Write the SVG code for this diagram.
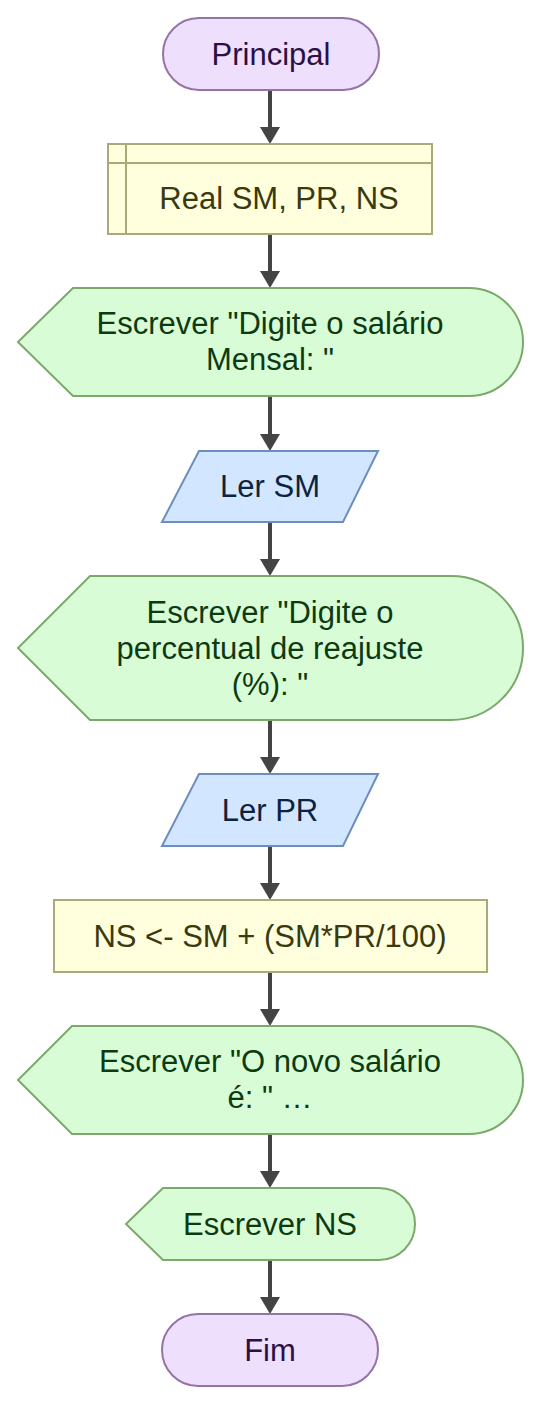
<svg xmlns="http://www.w3.org/2000/svg" width="541" height="1405" viewBox="0 0 541 1405">
<style>
text{font-family:"Liberation Sans",Arial,sans-serif;font-size:31px;text-anchor:middle}
.term{fill:#EEDFFD;stroke:#9673A6;stroke-width:2}
.term-t{fill:#2B0F45}
.proc{fill:#FFFFDD;stroke:#A9A97A;stroke-width:2}
.proc-t{fill:#3A3A0E}
.out{fill:#D8FDD6;stroke:#7DA86C;stroke-width:2}
.out-t{fill:#0E3A12}
.inp{fill:#D2E7FF;stroke:#6C8EBF;stroke-width:2}
.inp-t{fill:#0D2240}
.edge{stroke:#444444;stroke-width:4;fill:none;marker-end:url(#arr)}
</style>
<defs>
<marker id="arr" viewBox="0 0 17 20" refX="7" refY="10" markerWidth="17" markerHeight="20" markerUnits="userSpaceOnUse" orient="auto">
<path d="M0,0 L17,10 L0,20 Z" fill="#444444"/>
</marker>
</defs>
<rect width="541" height="1405" fill="#FFFFFF"/>
<g id="connectors">
<line class="edge" x1="270" y1="90" x2="270" y2="134"/>
<line class="edge" x1="270" y1="234" x2="270" y2="278"/>
<line class="edge" x1="270" y1="396" x2="270" y2="441"/>
<line class="edge" x1="270" y1="522" x2="270" y2="566"/>
<line class="edge" x1="270" y1="720" x2="270" y2="764"/>
<line class="edge" x1="270" y1="846" x2="270" y2="890"/>
<line class="edge" x1="270" y1="972" x2="270" y2="1016"/>
<line class="edge" x1="270" y1="1134" x2="270" y2="1178"/>
<line class="edge" x1="270" y1="1260" x2="270" y2="1304"/>
</g>
<g id="principal">
<rect class="term" x="163" y="18" width="216" height="72" rx="36" ry="36"/>
<text class="term-t" x="271" y="65">Principal</text>
</g>
<g id="declare">
<rect class="proc" x="108" y="144" width="324" height="90"/>
<line x1="126" y1="144" x2="126" y2="234" stroke="#A9A97A" stroke-width="2"/>
<line x1="108" y1="163" x2="432" y2="163" stroke="#A9A97A" stroke-width="2"/>
<text class="proc-t" x="279" y="209">Real SM, PR, NS</text>
</g>
<g id="out1">
<path class="out" d="M73,288 H469 A54,54 0 0 1 469,396 H73 L18,342 Z"/>
<text class="out-t" x="270" y="334">Escrever "Digite o salário</text>
<text class="out-t" x="270" y="370">Mensal: "</text>
</g>
<g id="in1">
<path class="inp" d="M199,451 H378 L343,522 H162 Z"/>
<text class="inp-t" x="270" y="497">Ler SM</text>
</g>
<g id="out2">
<path class="out" d="M90,576 H451 A72,72 0 0 1 451,720 H90 L18,648 Z"/>
<text class="out-t" x="270" y="623">Escrever "Digite o</text>
<text class="out-t" x="270" y="659">percentual de reajuste</text>
<text class="out-t" x="270" y="695">(%): "</text>
</g>
<g id="in2">
<path class="inp" d="M199,774 H378 L343,846 H162 Z"/>
<text class="inp-t" x="270" y="821">Ler PR</text>
</g>
<g id="calc">
<rect class="proc" x="54" y="900" width="433" height="72"/>
<text class="proc-t" x="270" y="947">NS &lt;- SM + (SM*PR/100)</text>
</g>
<g id="out3">
<path class="out" d="M72,1026 H469 A54,54 0 0 1 469,1134 H72 L18,1080 Z"/>
<text class="out-t" x="270" y="1072">Escrever "O novo salário</text>
<text class="out-t" x="270" y="1108">é: " …</text>
</g>
<g id="out4">
<path class="out" d="M163,1188 H379 A36,36 0 0 1 379,1260 H163 L126,1224 Z"/>
<text class="out-t" x="270" y="1235">Escrever NS</text>
</g>
<g id="fim">
<rect class="term" x="162" y="1314" width="216" height="72" rx="36" ry="36"/>
<text class="term-t" x="270" y="1361">Fim</text>
</g>
</svg>
